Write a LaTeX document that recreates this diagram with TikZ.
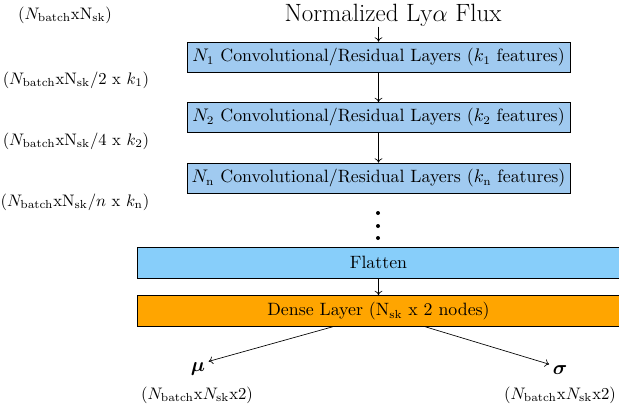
\documentclass[tikz,border=0pt]{standalone}
\usepackage{amsmath,bm}
\usetikzlibrary{arrows.meta}
\definecolor{convblue}{RGB}{160,202,240}
\definecolor{flatblue}{RGB}{135,206,250}
\definecolor{denseorange}{RGB}{255,165,0}
\begin{document}
\begin{tikzpicture}[x=0.6pt,y=-0.6pt,
  boxfont/.style={font=\fontsize{10.7}{13}\selectfont},
  conv/.style={draw, fill=convblue, boxfont, minimum width=229.8pt, minimum height=18pt, inner sep=0pt},
  wide/.style={draw, boxfont, minimum width=290pt, minimum height=18.6pt, inner sep=0pt},
  lbl/.style={inner sep=0pt},
  outsym/.style={inner sep=0pt, font=\large},
  dotmark/.style={circle, fill=black, inner sep=0pt, minimum size=2.4pt},
  arr/.style={-{To[length=2.6pt,width=4.6pt]}}]
\useasboundingbox (0,0) rectangle (619,413);
\node[lbl, font=\fontsize{15}{18}\selectfont] (title) at (393,15) {Normalized Ly$\alpha$ Flux};
\node[conv] (c1) at (378.5,57) {$N_1$ Convolutional/Residual Layers ($k_1$ features)};
\node[conv] (c2) at (378.5,117.5) {$N_2$ Convolutional/Residual Layers ($k_2$ features)};
\node[conv] (c3) at (378.5,178) {$N_{\rm n}$ Convolutional/Residual Layers ($k_{\rm n}$ features)};
\node[dotmark] (d1) at (378,213) {};
\node[dotmark] (d2) at (378,226) {};
\node[dotmark] (d3) at (378,238) {};
\node[wide, fill=flatblue] (fl) at (378.5,262.5) {Flatten};
\node[wide, fill=denseorange] (dense) at (378.5,311) {Dense Layer (N$_{\rm sk}$ x 2 nodes)};
\node[outsym] (mu) at (198,369) {$\bm{\mu}$};
\node[outsym] (sigma) at (560,370) {$\bm{\sigma}$};
\node[lbl] (mus) at (197,395) {($N_{\rm batch}$x$N_{\rm sk}$x2)};
\node[lbl] (sigs) at (560,395) {($N_{\rm batch}$x$N_{\rm sk}$x2)};
\node[lbl] (s0) at (65,15) {($N_{\rm batch}$x${\rm N}_{\rm sk}$)};
\node[lbl] (s1) at (76,80) {($N_{\rm batch}$x${\rm N}_{\rm sk}/2$ x $k_1$)};
\node[lbl] (s2) at (76,141) {($N_{\rm batch}$x${\rm N}_{\rm sk}/4$ x $k_2$)};
\node[lbl] (s3) at (75,202) {($N_{\rm batch}$x${\rm N}_{\rm sk}/n$ x $k_{\rm n}$)};
\draw[arr] (c1.north |- title.south) -- (c1.north);
\draw[arr] (c1) -- (c2);
\draw[arr] (c2) -- (c3);
\draw[arr] (fl) -- (dense);
\draw[arr, shorten >=2pt] ([xshift=-27.6pt]dense.south) -- (mu.north east);
\draw[arr, shorten >=2pt] ([xshift=28.2pt]dense.south) -- (sigma.north west);
\end{tikzpicture}
\end{document}
